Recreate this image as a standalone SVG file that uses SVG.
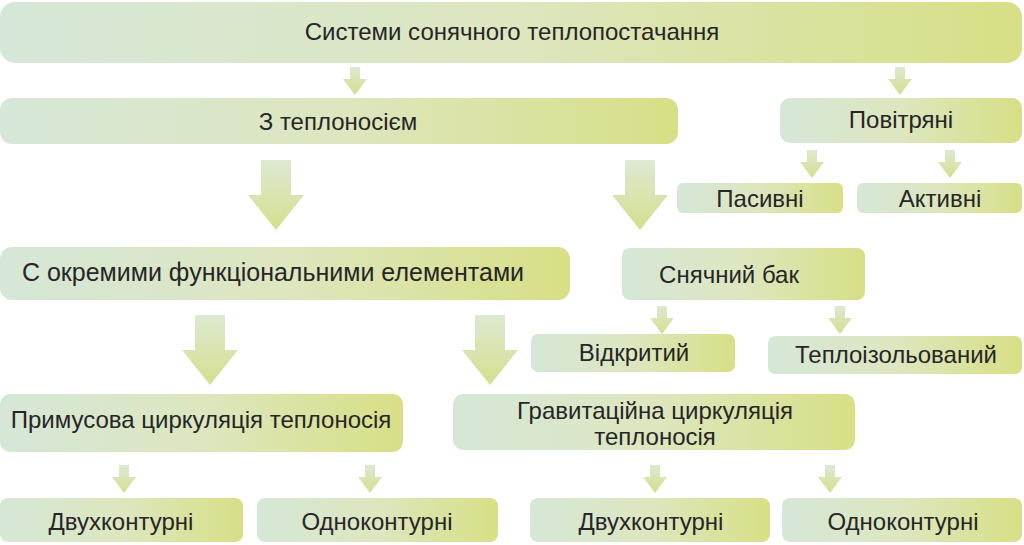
<svg xmlns="http://www.w3.org/2000/svg" width="1024" height="545" viewBox="0 0 1024 545">
<defs>
<linearGradient id="g" x1="0" y1="0" x2="1" y2="0">
<stop offset="0" stop-color="#d6e7d8"/>
<stop offset="0.5" stop-color="#dde6bf"/>
<stop offset="1" stop-color="#d8df86"/>
</linearGradient>
<linearGradient id="ga" x1="0" y1="0" x2="0" y2="1">
<stop offset="0" stop-color="#dde9d2"/>
<stop offset="1" stop-color="#d5df8e"/>
</linearGradient>
<path id="sa" d="M-5,0 H5 V12 H12 L0,28 L-12,12 H-5 Z" fill="url(#ga)"/>
<path id="ba" d="M-15,0 H15 V35 H28 L0,70 L-28,35 H-15 Z" fill="url(#ga)"/>
</defs>
<style>
.box{fill:url(#g);}
text{font-family:"Liberation Sans",Arial,sans-serif;font-size:24px;fill:#262626;text-anchor:middle;}
</style>
<rect width="1024" height="545" fill="#ffffff"/>
<g id="connectors">
<use href="#sa" x="355" y="67"/>
<use href="#sa" x="900" y="67"/>
<use href="#sa" x="812" y="150"/>
<use href="#sa" x="950" y="150"/>
<use href="#ba" x="276" y="160"/>
<use href="#ba" x="640" y="160"/>
<use href="#sa" x="662" y="306"/>
<use href="#sa" x="840" y="306"/>
<use href="#ba" x="210" y="315"/>
<use href="#ba" x="490" y="315"/>
<use href="#sa" x="124" y="465"/>
<use href="#sa" x="370" y="465"/>
<use href="#sa" x="655" y="465"/>
<use href="#sa" x="830" y="465"/>
</g>
<g id="n-root"><rect class="box" x="0" y="2" width="1022" height="61" rx="15"/><text x="512" y="40">Системи сонячного теплопостачання</text></g>
<g id="n-teplonosiem"><rect class="box" x="0" y="98" width="678" height="46" rx="12"/><text x="338" y="130">З теплоносієм</text></g>
<g id="n-povitriani"><rect class="box" x="780" y="98" width="242" height="45" rx="10"/><text x="901" y="128">Повітряні</text></g>
<g id="n-pasyvni"><rect class="box" x="677" y="183" width="166" height="30" rx="6"/><text x="760" y="207">Пасивні</text></g>
<g id="n-aktyvni"><rect class="box" x="857" y="183" width="165" height="30" rx="6"/><text x="940" y="207">Активні</text></g>
<g id="n-okremymy"><rect class="box" x="0" y="247" width="570" height="53" rx="12"/><text x="273" y="281" style="font-size:25px">С окремими функціональними елементами</text></g>
<g id="n-bak"><rect class="box" x="622" y="248" width="243" height="52" rx="8"/><text x="729" y="283">Снячний бак</text></g>
<g id="n-vidkrytyi"><rect class="box" x="531" y="334" width="204" height="38" rx="7"/><text x="634" y="361">Відкритий</text></g>
<g id="n-teploizol"><rect class="box" x="768" y="336" width="254" height="38" rx="7"/><text x="896" y="363">Теплоізольований</text></g>
<g id="n-prymusova"><rect class="box" x="0" y="394" width="403" height="58" rx="10"/><text x="201" y="428">Примусова циркуляція теплоносія</text></g>
<g id="n-gravitatsiina"><rect class="box" x="453" y="394" width="402" height="56" rx="10"/><text x="655" y="419">Гравитаційна циркуляція</text><text x="655" y="445">теплоносія</text></g>
<g id="n-dvukh1"><rect class="box" x="0" y="498" width="243" height="44" rx="8"/><text x="121" y="530">Двухконтурні</text></g>
<g id="n-odno1"><rect class="box" x="257" y="498" width="241" height="44" rx="8"/><text x="377" y="530">Одноконтурні</text></g>
<g id="n-dvukh2"><rect class="box" x="530" y="498" width="240" height="44" rx="8"/><text x="651" y="530">Двухконтурні</text></g>
<g id="n-odno2"><rect class="box" x="782" y="498" width="240" height="44" rx="8"/><text x="903" y="530">Одноконтурні</text></g>
</svg>
